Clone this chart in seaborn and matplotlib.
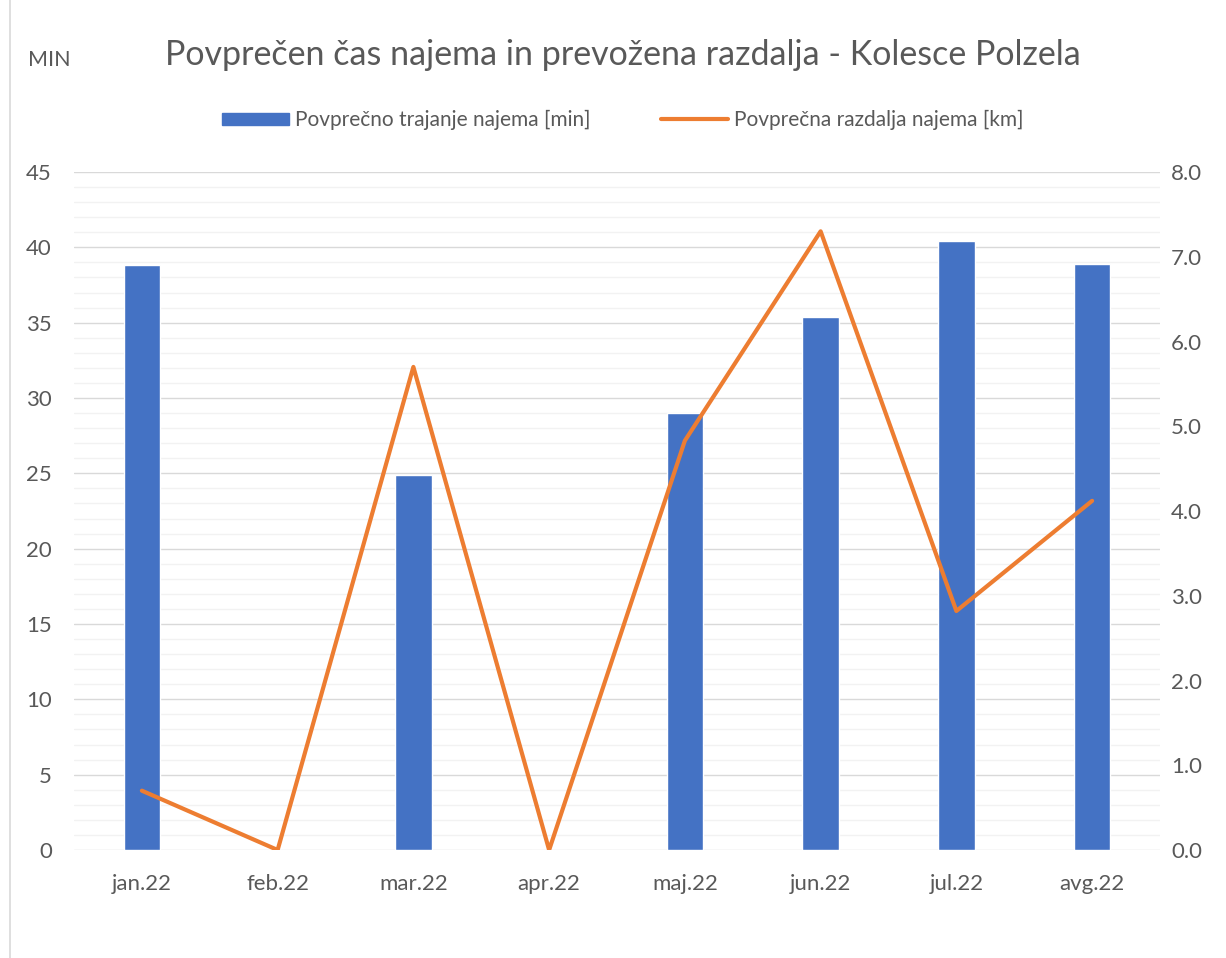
import numpy as np
import matplotlib.pyplot as plt
import matplotlib.patches as mpatches
import matplotlib.lines as mlines
from matplotlib.ticker import MultipleLocator, FormatStrFormatter
import seaborn as sns

# data
months = ['jan.22', 'feb.22', 'mar.22', 'apr.22', 'maj.22', 'jun.22', 'jul.22', 'avg.22']
duration_min = [38.8, 0, 24.9, 0, 29.0, 35.4, 40.4, 38.9]
distance_km = [0.70, 0.0, 5.70, 0.0, 4.83, 7.30, 2.82, 4.12]

bar_label = 'Povprečno trajanje najema [min]'
line_label = 'Povprečna razdalja najema [km]'
title = 'Povprečen čas najema in prevožena razdalja - Kolesce Polzela'

sns.set_style('white')
plt.rcParams['font.family'] = ['Lato', 'DejaVu Sans']

text_col = '#595959'
blue = '#4472C4'
orange = '#ED7D31'

fig = plt.figure(figsize=(12.26, 9.58), dpi=100)
ax = fig.add_axes([74 / 1226, 1 - 850 / 958, (1160 - 74) / 1226, (850 - 172) / 958])

sns.barplot(x=months, y=duration_min, color=blue, saturation=1, width=0.27, ax=ax, zorder=3)
ax.set_xlim(-0.5, len(months) - 0.5)
ax.set_ylim(0, 45)
ax.yaxis.set_major_locator(MultipleLocator(5))
ax.yaxis.set_minor_locator(MultipleLocator(1))
ax.grid(which='major', axis='y', color='#d9d9d9', linewidth=1.0, zorder=0)
ax.grid(which='minor', axis='y', color='#f2f2f2', linewidth=1.0, zorder=0)
ax.set_axisbelow(True)
for s in ax.spines.values():
    s.set_visible(False)
ax.tick_params(axis='both', which='both', length=0, labelsize=16, colors=text_col)
ax.tick_params(axis='y', pad=16)
ax.tick_params(axis='x', pad=17)
ax.set_xlabel('')
ax.set_ylabel('')

ax2 = ax.twinx()
sns.lineplot(x=np.arange(len(months)), y=distance_km, color=orange, linewidth=3.0, ax=ax2)
ax2.set_ylim(0, 8)
ax2.yaxis.set_major_locator(MultipleLocator(1))
ax2.yaxis.set_major_formatter(FormatStrFormatter('%.1f'))
for s in ax2.spines.values():
    s.set_visible(False)
ax2.tick_params(axis='y', length=0, labelsize=16, colors=text_col, pad=8)
ax2.set_ylabel('')
ax2.grid(False)

fig.text(623 / 1226, 1 - 55 / 958, title, ha='center', va='center', fontsize=24.5, color=text_col)
fig.text(28 / 1226, 1 - 60 / 958, 'MIN', ha='left', va='center', fontsize=15.5, color=text_col)

handles = [mpatches.Patch(color=blue, label=bar_label),
           mlines.Line2D([], [], color=orange, linewidth=3.0, label=line_label)]
fig.legend(handles=handles, loc='center', bbox_to_anchor=(623 / 1226, 1 - 120 / 958), ncol=2,
           frameon=False, fontsize=15, labelcolor=text_col, handlelength=3.2, handleheight=0.5,
           columnspacing=3.4, handletextpad=0.3)

# chart border on the left
fig.add_artist(mlines.Line2D([10 / 1226, 10 / 1226], [0, 1], color='#d9d9d9', linewidth=1.2))

fig.savefig('out.png', dpi=100, facecolor='white')
